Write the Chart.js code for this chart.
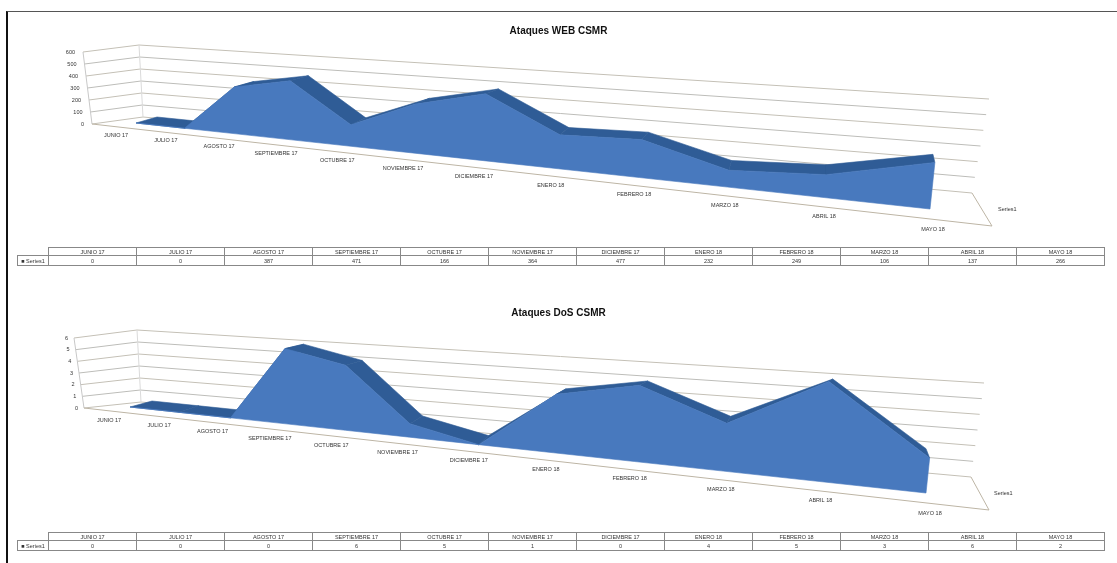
<!DOCTYPE html>
<html>
<head>
<meta charset="utf-8">
<title>Ataques CSMR</title>
<script src="https://cdn.jsdelivr.net/npm/chart.js@4/dist/chart.umd.min.js"></script>
<style>
    html, body { margin: 0; padding: 0; background: #fff; }
    body { width: 1117px; height: 563px; position: relative; overflow: hidden; }
    canvas { position: absolute; left: 0; filter: blur(0.65px); }
    #frame { position: absolute; left: 6px; top: 11px; right: 0; bottom: 0; box-sizing: border-box;
             border-left: 2px solid #111; border-top: 1px solid #555; }
    table { position: absolute; left: 17px; border-collapse: collapse; table-layout: fixed; width: 1087px;
            font: 5.5px "Liberation Sans", sans-serif; color: #333; text-align: center; filter: blur(0.6px); }
    td { border: 1px solid #888; padding: 0; overflow: hidden; white-space: nowrap; }
    td.blank { border: none; }
    tr { height: 8px; }
    tr + tr { height: 10px; }
</style>
</head>
<body>
<div id="frame"></div>
<canvas id="webChart" width="1117" height="282" style="top:0"></canvas>
<canvas id="dosChart" width="1117" height="281" style="top:282px"></canvas>
<table id="webTable" style="top:247px"></table>
<table id="dosTable" style="top:532px"></table>
<script>
// ── Data ────────────────────────────────────────────────────────

const categories = ['JUNIO 17', 'JULIO 17', 'AGOSTO 17', 'SEPTIEMBRE 17', 'OCTUBRE 17', 'NOVIEMBRE 17',
    'DICIEMBRE 17', 'ENERO 18', 'FEBRERO 18', 'MARZO 18', 'ABRIL 18', 'MAYO 18'];
const seriesName = 'Series1';

const webValues = [0, 0, 387, 471, 166, 364, 477, 232, 249, 106, 137, 266];
const dosValues = [0, 0, 0, 6, 5, 1, 0, 4, 5, 3, 6, 2];

const webTicks = [0, 100, 200, 300, 400, 500, 600];
const dosTicks = [0, 1, 2, 3, 4, 5, 6];

// ── 3D box layout (page pixels, left end / right end of each edge) ──

const PERSPECTIVE = 0.65;

const webBox = {
    title: 'Ataques WEB CSMR',
    yRange: [37, 282],
    frontBase: [[136, 123], [930, 209]],
    frontTop: [[131, 55], [941, 104]],
    backBase: [[157, 117], [925, 196]],
    backTop: [[154, 50], [943, 102]],
    wallFront: [[92, 124], [83, 52]],
    wallBack: [[143, 117], [139, 45]],
    wallRight: [[972, 193], [989, 99]],
    floorRight: [992, 226],
    labels: [[116, 135], [933, 229]],
    seriesLabel: [998, 209],
    tickGap: 8,
};

const dosBox = {
    title: 'Ataques DoS CSMR',
    yRange: [319, 563],
    frontBase: [[130, 407], [926, 493]],
    frontTop: [[126, 339], [937, 388]],
    backBase: [[152, 401], [920, 480]],
    backTop: [[149, 334], [938, 386]],
    wallFront: [[84, 408], [74, 338]],
    wallBack: [[141, 402], [137, 330]],
    wallRight: [[971, 477], [984, 383]],
    floorRight: [989, 510],
    labels: [[109, 420], [930, 513]],
    seriesLabel: [994, 493],
    tickGap: 6,
};

// ── Projection ──────────────────────────────────────────────────

function mix(a, b, s) {
    return [a[0] + (b[0] - a[0]) * s, a[1] + (b[1] - a[1]) * s];
}

// position along the category axis, foreshortened towards the left
function axisPos(i) {
    const t = i / (categories.length - 1);
    return PERSPECTIVE * t / ((1 - t) + PERSPECTIVE * t);
}

function project(base, top, i, frac) {
    const s = axisPos(i);
    const p = mix(mix(base[0], base[1], s), mix(top[0], top[1], s), frac);
    return { x: p[0], y: p[1] };
}

const xy = (p) => ({ x: p[0], y: p[1] });

// ── Datasets ────────────────────────────────────────────────────

function buildDatasets(box, values, ticks) {
    const sets = [];
    const maxVal = ticks[ticks.length - 1];
    const line = (data, color, width) => sets.push({
        data, showLine: true, pointRadius: 0, borderColor: color, borderWidth: width, fill: false,
    });
    const poly = (data, color) => sets.push({
        data: [...data, data[0]], showLine: true, pointRadius: 0, borderColor: color, borderWidth: 0.6,
        backgroundColor: color, fill: 'shape',
    });

    // walls and floor
    ticks.forEach((tick, k) => {
        const f = k / (ticks.length - 1);
        const front = mix(box.wallFront[0], box.wallFront[1], f);
        const corner = mix(box.wallBack[0], box.wallBack[1], f);
        const right = mix(box.wallRight[0], box.wallRight[1], f);
        line([xy(front), xy(corner), xy(right)], k % 2 ? '#bdbdb9' : '#c4c0b6', 1);
    });
    line([xy(box.wallFront[0]), xy(box.wallFront[1])], '#c8c8c8', 1);
    line([xy(box.wallBack[0]), xy(box.wallBack[1])], '#dadada', 1);
    line([xy(box.wallRight[0]), xy(box.floorRight), xy(box.wallFront[0])], '#bdb5a5', 1);

    // roof of the area, back edge to front edge, segment by segment
    const frac = (i) => values[i] / maxVal;
    for (let i = 0; i < values.length - 1; i++) {
        poly([
            project(box.backBase, box.backTop, i, frac(i)),
            project(box.backBase, box.backTop, i + 1, frac(i + 1)),
            project(box.frontBase, box.frontTop, i + 1, frac(i + 1)),
            project(box.frontBase, box.frontTop, i, frac(i)),
        ], '#2f5c96');
    }

    // front face of the area
    const top = values.map((v, i) => project(box.frontBase, box.frontTop, i, frac(i)));
    const base = values.map((v, i) => project(box.frontBase, box.frontTop, i, 0)).reverse();
    poly([...top, ...base], '#4879be');

    sets.forEach((s, n) => { s.order = 1000 - n; });
    return sets;
}

// ── Text on the 3D axes ─────────────────────────────────────────

const axisText = {
    id: 'axisText',
    afterDraw(chart, args, opts) {
        const { ctx, scales: { x, y } } = chart;
        const box = opts.box;
        const put = (text, px, py, align) => {
            ctx.textAlign = align;
            ctx.fillText(text, x.getPixelForValue(px), y.getPixelForValue(py));
        };
        ctx.save();
        ctx.font = '5.5px "Liberation Sans", sans-serif';
        ctx.fillStyle = '#333';
        ctx.textBaseline = 'middle';
        opts.ticks.forEach((tick, k) => {
            const p = mix(box.wallFront[0], box.wallFront[1], k / (opts.ticks.length - 1));
            put(String(tick), p[0] - box.tickGap, p[1], 'right');
        });
        categories.forEach((label, i) => {
            const p = mix(box.labels[0], box.labels[1], axisPos(i));
            put(label, p[0], p[1], 'center');
        });
        put(seriesName, box.seriesLabel[0], box.seriesLabel[1], 'left');
        ctx.restore();
    },
};

function createChart(canvasId, box, values, ticks) {
    return new Chart(document.getElementById(canvasId), {
        type: 'scatter',
        data: { datasets: buildDatasets(box, values, ticks) },
        plugins: [axisText],
        options: {
            responsive: false,
            animation: false,
            layout: { padding: 0 },
            scales: {
                x: { type: 'linear', min: 0, max: 1117, display: false },
                y: { type: 'linear', min: box.yRange[0], max: box.yRange[1], reverse: true, display: false },
            },
            plugins: {
                legend: { display: false },
                tooltip: { enabled: false },
                title: {
                    display: true,
                    text: box.title,
                    color: '#111',
                    padding: { top: 25, bottom: 0 },
                    font: { family: "'Liberation Sans', sans-serif", size: 10, weight: 'bold', lineHeight: 1.2 },
                },
                axisText: { box, ticks },
            },
        },
    });
}

// ── Data tables under the charts ────────────────────────────────

function fillTable(tableId, values) {
    const table = document.getElementById(tableId);
    const cols = '<colgroup><col style="width:31px">' + categories.map(() => '<col style="width:88px">').join('') + '</colgroup>';
    const head = categories.map(c => `<td>${c}</td>`).join('');
    const row = values.map(v => `<td>${v}</td>`).join('');
    table.innerHTML = `${cols}<tr><td class="blank"></td>${head}</tr>` +
        `<tr><td>&#9632; ${seriesName}</td>${row}</tr>`;
}

createChart('webChart', webBox, webValues, webTicks);
createChart('dosChart', dosBox, dosValues, dosTicks);
fillTable('webTable', webValues);
fillTable('dosTable', dosValues);
</script>
</body>
</html>
